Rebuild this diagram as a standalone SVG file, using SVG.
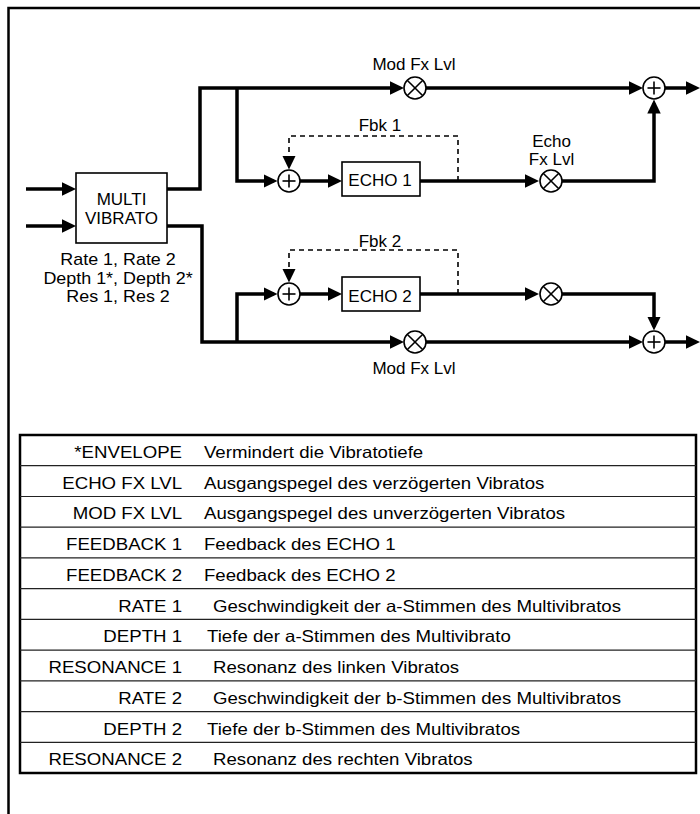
<svg xmlns="http://www.w3.org/2000/svg" width="700" height="814" viewBox="0 0 700 814">
<style>
.t{font-family:"Liberation Sans",Arial,sans-serif;font-size:17px;fill:#000}
.m{text-anchor:middle}
.e{text-anchor:end}
.p{font-family:"Liberation Sans",Arial,sans-serif;font-size:16px;fill:#000;text-anchor:middle}
.tb{font-family:"Liberation Sans",Arial,sans-serif;font-size:16.5px;fill:#000}
.w{fill:none;stroke:#000;stroke-width:3.5;stroke-linejoin:miter}
.d{fill:none;stroke:#000;stroke-width:1.6;stroke-dasharray:5 4}
.box{fill:#fff;stroke:#000;stroke-width:1.6}
.sym{fill:#fff;stroke:#000;stroke-width:1.6}
.sl{stroke:#000;stroke-width:1.6}
.row{stroke:#222;stroke-width:1.2}
</style>
<defs>
<marker id="ah" markerUnits="userSpaceOnUse" markerWidth="16" markerHeight="15" refX="10" refY="6.75" orient="auto">
<path d="M0,0 L14,6.75 L0,13.5 z" fill="#000"/>
</marker>
<g id="add"><circle class="sym" r="11"/><line class="sl" x1="-6.5" y1="0" x2="6.5" y2="0"/><line class="sl" x1="0" y1="-6.5" x2="0" y2="6.5"/></g>
<g id="mul"><circle class="sym" r="11"/><line class="sl" x1="-7.8" y1="-7.8" x2="7.8" y2="7.8"/><line class="sl" x1="-7.8" y1="7.8" x2="7.8" y2="-7.8"/></g>
</defs>

<path d="M8.5,814 V8 H700" fill="none" stroke="#000" stroke-width="2.5"/>

<g id="connectors">
<path class="w" d="M26,189 H72" marker-end="url(#ah)"/>
<path class="w" d="M26,226 H72" marker-end="url(#ah)"/>
<path class="w" d="M167,189 H200 V88 H400" marker-end="url(#ah)"/>
<path class="w" d="M426,88 H639" marker-end="url(#ah)"/>
<path class="w" d="M665,88 H696" marker-end="url(#ah)"/>
<path class="w" d="M237,88 V181 H273.5" marker-end="url(#ah)"/>
<path class="w" d="M300,181 H338" marker-end="url(#ah)"/>
<path class="w" d="M420,181 H535" marker-end="url(#ah)"/>
<path class="w" d="M562,181 H654 V103.5" marker-end="url(#ah)"/>
<path class="d" d="M458,181 V136 H289 V165.5" marker-end="url(#ah)"/>
<path class="w" d="M167,226 H202 V342 H400" marker-end="url(#ah)"/>
<path class="w" d="M426,342 H639" marker-end="url(#ah)"/>
<path class="w" d="M665,342 H696" marker-end="url(#ah)"/>
<path class="w" d="M237,342 V294 H273.5" marker-end="url(#ah)"/>
<path class="w" d="M300,294 H338" marker-end="url(#ah)"/>
<path class="w" d="M420,294 H535" marker-end="url(#ah)"/>
<path class="w" d="M562,294 H654 V326.5" marker-end="url(#ah)"/>
<path class="d" d="M458,294 V250 H289 V278.5" marker-end="url(#ah)"/>
</g>

<g id="multivibrato">
<rect class="box" x="76" y="173" width="91" height="70"/>
<text class="t m" x="121.5" y="205">MULTI</text>
<text class="t m" x="121.5" y="224">VIBRATO</text>
<g transform="scale(1.12 1)">
<text class="p" x="105.4" y="265.5">Rate 1, Rate 2</text>
<text class="p" x="105.4" y="284">Depth 1*, Depth 2*</text>
<text class="p" x="105.4" y="302.5">Res 1, Res 2</text>
</g>
</g>

<g id="echo1">
<rect class="box" x="342" y="162" width="78" height="34"/>
<text class="t m" x="380" y="186">ECHO 1</text>
</g>
<g id="echo2">
<rect class="box" x="342" y="277" width="78" height="34"/>
<text class="t m" x="380" y="302">ECHO 2</text>
</g>

<g id="fbk1"><text class="t m" x="380" y="131">Fbk 1</text></g>
<g id="fbk2"><text class="t m" x="380" y="246.5">Fbk 2</text></g>

<g id="modmul1"><use href="#mul" x="415" y="88"/><text class="t m" x="414" y="70">Mod Fx Lvl</text></g>
<g id="echomul1"><use href="#mul" x="551" y="181"/><text class="t m" x="551.5" y="146.5">Echo</text><text class="t m" x="551.5" y="164.5">Fx Lvl</text></g>
<g id="adder1a"><use href="#add" x="289" y="181"/></g>
<g id="adder1out"><use href="#add" x="654" y="88"/></g>

<g id="modmul2"><use href="#mul" x="415" y="342"/><text class="t m" x="414" y="373.5">Mod Fx Lvl</text></g>
<g id="echomul2"><use href="#mul" x="551" y="294"/></g>
<g id="adder2a"><use href="#add" x="289" y="294"/></g>
<g id="adder2out"><use href="#add" x="654" y="342"/></g>

<g id="table">
<rect x="20" y="435" width="676" height="338" fill="none" stroke="#000" stroke-width="2.5"/>
<line class="row" x1="20" y1="465.7" x2="696" y2="465.7"/>
<line class="row" x1="20" y1="496.5" x2="696" y2="496.5"/>
<line class="row" x1="20" y1="527.2" x2="696" y2="527.2"/>
<line class="row" x1="20" y1="557.9" x2="696" y2="557.9"/>
<line class="row" x1="20" y1="588.7" x2="696" y2="588.7"/>
<line class="row" x1="20" y1="619.4" x2="696" y2="619.4"/>
<line class="row" x1="20" y1="650.1" x2="696" y2="650.1"/>
<line class="row" x1="20" y1="680.8" x2="696" y2="680.8"/>
<line class="row" x1="20" y1="711.6" x2="696" y2="711.6"/>
<line class="row" x1="20" y1="742.3" x2="696" y2="742.3"/>
<g transform="scale(1.13 1)">
<text class="tb e" x="161.1" y="458">*ENVELOPE</text>
<text class="tb" x="180.5" y="458">Vermindert die Vibratotiefe</text>
<text class="tb e" x="161.1" y="488.7">ECHO FX LVL</text>
<text class="tb" x="180.5" y="488.7">Ausgangspegel des verzögerten Vibratos</text>
<text class="tb e" x="161.1" y="519.5">MOD FX LVL</text>
<text class="tb" x="180.5" y="519.5">Ausgangspegel des unverzögerten Vibratos</text>
<text class="tb e" x="161.1" y="550.2">FEEDBACK 1</text>
<text class="tb" x="180.5" y="550.2">Feedback des ECHO 1</text>
<text class="tb e" x="161.1" y="580.9">FEEDBACK 2</text>
<text class="tb" x="180.5" y="580.9">Feedback des ECHO 2</text>
<text class="tb e" x="161.1" y="611.7">RATE 1</text>
<text class="tb" x="188.5" y="611.7">Geschwindigkeit der a-Stimmen des Multivibratos</text>
<text class="tb e" x="161.1" y="642.4">DEPTH 1</text>
<text class="tb" x="183.2" y="642.4">Tiefe der a-Stimmen des Multivibrato</text>
<text class="tb e" x="161.1" y="673.1">RESONANCE 1</text>
<text class="tb" x="188.5" y="673.1">Resonanz des linken Vibratos</text>
<text class="tb e" x="161.1" y="703.8">RATE 2</text>
<text class="tb" x="188.5" y="703.8">Geschwindigkeit der b-Stimmen des Multivibratos</text>
<text class="tb e" x="161.1" y="734.6">DEPTH 2</text>
<text class="tb" x="183.2" y="734.6">Tiefe der b-Stimmen des Multivibratos</text>
<text class="tb e" x="161.1" y="765.3">RESONANCE 2</text>
<text class="tb" x="188.5" y="765.3">Resonanz des rechten Vibratos</text>
</g>
</g>
</svg>
